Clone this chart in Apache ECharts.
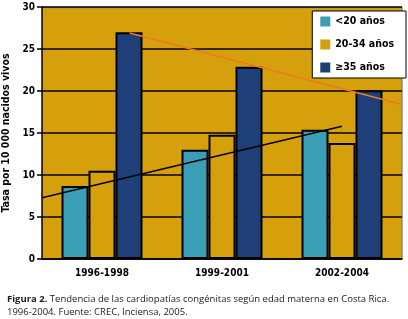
<!DOCTYPE html>
<html>
<head>
<meta charset="utf-8">
<script src="https://cdn.jsdelivr.net/npm/echarts@6/dist/echarts.min.js"></script>
<style>
html, body { margin: 0; padding: 0; background: #fff; }
#chart { width: 408px; height: 319px; }
</style>
</head>
<body>
<div id="chart"></div>
<script>
var categories = ['1996-1998', '1999-2001', '2002-2004'];
var menores20 = [8.7, 13.0, 15.4];
var de20a34 = [10.5, 14.8, 13.8];
var mayores35 = [27.0, 22.9, 20.1];
// tendencias (x en unidades de categoría, 0..3)
var tendenciaMenores = [[0, 7.3], [2.5, 15.8]];
var tendenciaMayores = [[0.73, 26.9], [3, 18.4]];

var gold = '#D5A00C';
var font = 'DejaVu Sans Condensed';

var chart = echarts.init(document.getElementById('chart'));

var barStyle = function (color) {
	return { color: color, borderColor: '#000', borderWidth: 2 };
};

chart.setOption({
	animation: false,
	backgroundColor: '#fff',
	grid: {
		left: 42, right: 6, top: 7, bottom: 60,
		outerBoundsMode: 'none', containLabel: false,
		backgroundColor: gold, show: true, borderWidth: 0
	},
	legend: {
		right: 2, top: 11, orient: 'vertical',
		backgroundColor: '#fff', borderColor: '#000', borderWidth: 1,
		padding: [5, 12, 5, 8], itemGap: 12,
		itemWidth: 10, itemHeight: 10,
		itemStyle: { borderWidth: 0 },
		textStyle: { fontFamily: font, fontWeight: 'bold', fontSize: 10.5, color: '#000' },
		data: [
			{ name: '<20 años', icon: 'rect' },
			{ name: '20-34 años', icon: 'rect' },
			{ name: '≥35 años', icon: 'rect' }
		]
	},
	xAxis: [{
		type: 'category',
		data: categories,
		axisLine: { lineStyle: { color: '#000', width: 1.5 } },
		axisTick: { length: 4, lineStyle: { color: '#000' } },
		axisLabel: { fontFamily: font, fontWeight: 'bold', fontSize: 10, color: '#000', margin: 9 }
	}, {
		type: 'value', min: 0, max: 3, show: false
	}],
	yAxis: {
		type: 'value', min: 0, max: 30, interval: 5,
		name: 'Tasa por 10 000 nacidos vivos',
		nameLocation: 'middle', nameGap: 24, nameRotate: 90,
		nameTextStyle: { fontFamily: font, fontWeight: 'bold', fontSize: 10.5, color: '#000' },
		axisLine: { show: true, lineStyle: { color: '#000', width: 1.5 } },
		axisTick: { show: true, length: 5, lineStyle: { color: '#000', width: 1.5 } },
		axisLabel: { fontFamily: font, fontWeight: 'bold', fontSize: 10, color: '#000', margin: 7 },
		splitLine: { lineStyle: { color: '#000', width: 1.5 } }
	},
	title: {
		left: 2, top: 288,
		text: '{b|Figura 2.} Tendencia de las cardiopatías congénitas según edad materna en Costa Rica.\n1996-2004. Fuente: CREC, Inciensa, 2005.',
		textStyle: {
			fontFamily: 'Open Sans', fontSize: 9.5, fontWeight: 'normal', color: '#222', lineHeight: 13,
			rich: { b: { fontFamily: 'Open Sans', fontSize: 9.5, fontWeight: 'bold', color: '#222' } }
		}
	},
	graphic: [
		{ type: 'line', shape: { x1: 42, y1: 7.5, x2: 402, y2: 7.5 }, style: { stroke: '#888', lineWidth: 1.5 } },
		{ type: 'line', shape: { x1: 402, y1: 7, x2: 402, y2: 259 }, style: { stroke: '#888', lineWidth: 1.5 } }
	],
	series: [
		{ name: '<20 años', type: 'bar', data: menores20, barWidth: 27, barGap: 0, itemStyle: barStyle('#3A9EB6') },
		{ name: '20-34 años', type: 'bar', data: de20a34, barWidth: 27, barGap: 0, itemStyle: barStyle(gold) },
		{ name: '≥35 años', type: 'bar', data: mayores35, barWidth: 27, barGap: 0, itemStyle: barStyle('#1F3F78') },
		{ type: 'line', xAxisIndex: 1, data: tendenciaMenores, symbol: 'none', lineStyle: { color: '#000', width: 1.5 }, z: 5 },
		{ type: 'line', xAxisIndex: 1, data: tendenciaMayores, symbol: 'none', lineStyle: { color: '#F07A22', width: 1.5 }, z: 5 }
	]
});
</script>
</body>
</html>
